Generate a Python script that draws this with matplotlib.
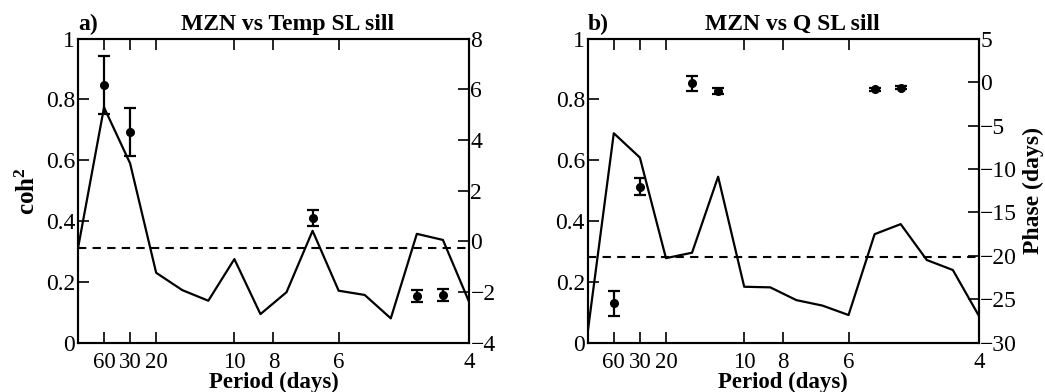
import numpy as np
import matplotlib
matplotlib.use("Agg")
import matplotlib.pyplot as plt
from matplotlib.ticker import FuncFormatter

plt.rcParams['font.family'] = ['Liberation Serif', 'DejaVu Serif']
plt.rcParams['mathtext.fontset'] = 'custom'
plt.rcParams['mathtext.rm'] = 'Liberation Serif'
plt.rcParams['mathtext.bf'] = 'Liberation Serif:bold'

# frequency (cycles/day) of each spectral estimate
freq = [0/60, 1/60, 2/60, 3/60, 4/60, 5/60, 6/60, 7/60,
        8/60, 9/60, 10/60, 11/60, 12/60, 13/60, 14/60, 15/60]

# period tick labels
period_ticks = [60, 30, 20, 10, 8, 6, 4]

# Panel a: MZN vs Temp SL sill
coh_a = [0.31, 0.774, 0.59, 0.23, 0.173, 0.138, 0.275, 0.094,
         0.166, 0.368, 0.171, 0.157, 0.080, 0.358, 0.338, 0.135]
sig_a = 0.3125
phase_a_idx = [1, 2, 9, 13, 14]
phase_a = [6.17, 4.30, 0.91, -2.16, -2.13]
phase_a_err = [1.15, 0.95, 0.32, 0.24, 0.24]

# Panel b: MZN vs Q SL sill
coh_b = [0.035, 0.689, 0.609, 0.278, 0.296, 0.546, 0.184, 0.182,
         0.140, 0.122, 0.091, 0.357, 0.390, 0.272, 0.239, 0.088]
sig_b = 0.283
phase_b_idx = [1, 2, 4, 5, 11, 12]
phase_b = [-25.46, -12.04, -0.14, -1.02, -0.83, -0.64]
phase_b_err = [1.45, 0.95, 0.85, 0.3, 0.2, 0.2]

FS = 17
fig = plt.figure(figsize=(10.45, 3.92), dpi=100)

def minus_fmt(v, pos):
    return ('%g' % v).replace('-', '\u2212')

def panel(rect, coh, sig, pidx, ph, pe, ylim2, yticks2, letter, title, tx,
          left_label=None, right_label=None):
    ax = fig.add_axes(rect)
    ax.plot(freq, coh, color='black', lw=1.6, zorder=3)
    ax.axhline(sig, color='black', lw=1.5, ls=(0, (4, 3)), zorder=2)
    ax.set_xlim(0, 0.25)
    ax.set_ylim(0, 1)
    ax.set_yticks([0, 0.2, 0.4, 0.6, 0.8, 1])
    ax.yaxis.set_major_formatter(FuncFormatter(lambda v, p: '%g' % v))
    ax.set_xticks([1 / p for p in period_ticks])
    ax.set_xticklabels([str(p) for p in period_ticks])
    ax.tick_params(axis='x', direction='in', top=True, bottom=True,
                   length=8, width=1.2, labelsize=16.5, pad=6.5)
    ax.tick_params(axis='y', direction='in', left=True, right=False,
                   length=8, width=1.2, labelsize=FS, pad=2)
    for s in ax.spines.values():
        s.set_linewidth(1.5)
    ax.set_xlabel('Period (days)', fontsize=16.5, fontweight='bold')
    ax.xaxis.set_label_coords(0.5, -0.097)
    if left_label:
        ax.set_ylabel(left_label, fontsize=FS + 1, fontweight='bold', labelpad=4)

    ax2 = ax.twinx()
    ax2.set_ylim(*ylim2)
    ax2.set_yticks(yticks2)
    ax2.yaxis.set_major_formatter(FuncFormatter(minus_fmt))
    ax2.tick_params(axis='y', direction='in', length=8, width=1.2,
                    labelsize=FS, pad=1)
    for s in ax2.spines.values():
        s.set_linewidth(1.5)
    px = [freq[i] for i in pidx]
    ax2.errorbar(px, ph, yerr=pe, fmt='o', color='black', ms=5.5,
                 capsize=4, elinewidth=1.6, capthick=1.6, zorder=4)
    if right_label:
        ax2.set_ylabel(right_label, fontsize=FS, fontweight='bold', labelpad=4)

    ax.text(0.0, 1.029, letter, transform=ax.transAxes, fontsize=FS,
            fontweight='bold', ha='left', va='baseline')
    ax.text(tx, 1.029, title, transform=ax.transAxes, fontsize=FS,
            fontweight='bold', ha='center', va='baseline')
    return ax, ax2

panel([0.0746, 0.1258, 0.3742, 0.7755], coh_a, sig_a, phase_a_idx, phase_a,
      phase_a_err, (-4, 8), [-4, -2, 0, 2, 4, 6, 8], 'a)',
      'MZN vs Temp SL sill', 0.537, left_label=r'$\mathbf{coh^2}$')
panel([0.5624, 0.1258, 0.3744, 0.7755], coh_b, sig_b, phase_b_idx, phase_b,
      phase_b_err, (-30, 5), [-30, -25, -20, -15, -10, -5, 0, 5], 'b)',
      'MZN vs Q SL sill', 0.522, right_label='Phase (days)')

fig.savefig('out.png', dpi=100)
